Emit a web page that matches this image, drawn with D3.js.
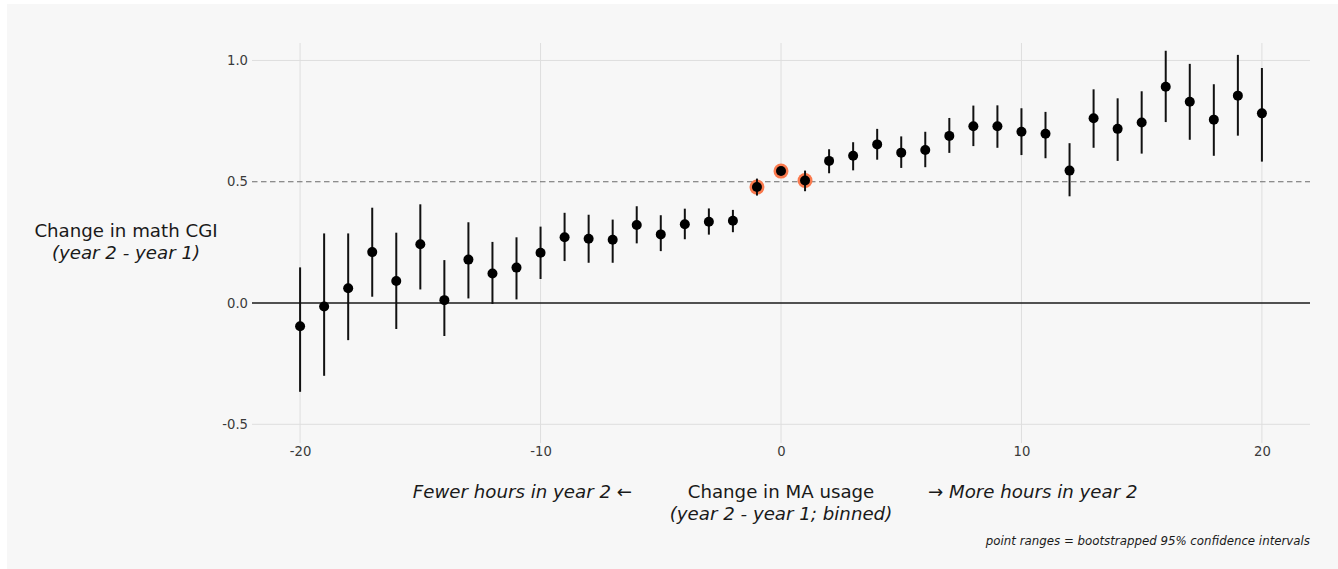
<!DOCTYPE html>
<html>
<head>
<meta charset="utf-8">
<script src="https://cdn.jsdelivr.net/npm/d3@7"></script>
<style>
  html, body { margin: 0; padding: 0; background: #ffffff; }
  svg { display: block; font-family: "DejaVu Sans", sans-serif; }
</style>
</head>
<body>
<svg id="chart" width="1338" height="569"></svg>
<script>
// binned change in MA usage (hours, year 2 - year 1)
const bins = [-20, -19, -18, -17, -16, -15, -14, -13, -12, -11, -10, -9, -8, -7, -6, -5, -4, -3, -2, -1,
  0, 1, 2, 3, 4, 5, 6, 7, 8, 9, 10, 11, 12, 13, 14, 15, 16, 17, 18, 19, 20];
// mean change in math CGI per bin
const estimate = [-0.096, -0.014, 0.061, 0.210, 0.091, 0.242, 0.012, 0.179, 0.122, 0.146, 0.207, 0.271,
  0.265, 0.261, 0.322, 0.283, 0.325, 0.335, 0.339, 0.478, 0.544, 0.505, 0.586, 0.607, 0.654, 0.620,
  0.631, 0.689, 0.729, 0.729, 0.706, 0.698, 0.546, 0.762, 0.718, 0.744, 0.892, 0.830, 0.756, 0.855, 0.782];
// bootstrapped 95% CI bounds
const lower = [-0.366, -0.300, -0.153, 0.026, -0.107, 0.056, -0.136, 0.019, -0.004, 0.015, 0.099, 0.173,
  0.166, 0.166, 0.246, 0.214, 0.263, 0.282, 0.292, 0.443, 0.530, 0.461, 0.535, 0.547, 0.591, 0.557,
  0.560, 0.619, 0.647, 0.640, 0.610, 0.597, 0.440, 0.640, 0.586, 0.616, 0.746, 0.673, 0.607, 0.690, 0.583];
const upper = [0.147, 0.287, 0.287, 0.393, 0.290, 0.407, 0.177, 0.333, 0.252, 0.271, 0.315, 0.372,
  0.364, 0.344, 0.399, 0.362, 0.389, 0.390, 0.384, 0.513, 0.558, 0.546, 0.634, 0.663, 0.718, 0.687,
  0.706, 0.763, 0.814, 0.815, 0.803, 0.788, 0.659, 0.881, 0.844, 0.873, 1.040, 0.986, 0.902, 1.023, 0.969];
// bins near zero change that get a highlight ring
const highlighted = [-1, 0, 1];

const xTicks = [-20, -10, 0, 10, 20];
const yTicks = [-0.5, 0, 0.5, 1.0];
const refLine = 0.5;

const data = bins.map((b, i) => ({ bin: b, est: estimate[i], lo: lower[i], hi: upper[i] }));

const svg = d3.select("#chart");

svg.append("rect")
  .attr("x", 7).attr("y", 4)
  .attr("width", 1331).attr("height", 565)
  .attr("fill", "#f7f7f7");

const x = d3.scaleLinear().domain([-22, 22]).range([252, 1310]);
const y = d3.scaleLinear().domain([-0.577, 1.072]).range([443, 43]);

// grid
const grid = svg.append("g");
grid.selectAll("line.vx")
  .data(xTicks)
  .enter()
  .append("line")
  .attr("x1", (d) => x(d)).attr("x2", (d) => x(d))
  .attr("y1", y.range()[1]).attr("y2", y.range()[0])
  .attr("stroke", "#dedede")
  .attr("stroke-width", 1);
grid.selectAll("line.hy")
  .data(yTicks.filter((d) => d !== 0 && d !== refLine))
  .enter()
  .append("line")
  .attr("x1", x.range()[0]).attr("x2", x.range()[1])
  .attr("y1", (d) => y(d)).attr("y2", (d) => y(d))
  .attr("stroke", "#dedede")
  .attr("stroke-width", 1);

// zero line and dashed reference line
svg.append("line")
  .attr("x1", x.range()[0]).attr("x2", x.range()[1])
  .attr("y1", y(0)).attr("y2", y(0))
  .attr("stroke", "#1a1a1a")
  .attr("stroke-width", 1.5);
svg.append("line")
  .attr("x1", x.range()[0]).attr("x2", x.range()[1])
  .attr("y1", y(refLine)).attr("y2", y(refLine))
  .attr("stroke", "#6b6b6b")
  .attr("stroke-width", 1.2)
  .attr("stroke-dasharray", "5.5,3.5");

// axes (labels only)
const yAxis = svg.append("g")
  .attr("transform", "translate(" + x.range()[0] + ",0)")
  .call(d3.axisLeft(y).tickValues(yTicks).tickSize(0).tickPadding(4)
    .tickFormat((d) => d.toFixed(1)));
const xAxis = svg.append("g")
  .attr("transform", "translate(0," + y.range()[0] + ")")
  .call(d3.axisBottom(x).tickValues(xTicks).tickSize(0).tickPadding(4)
    .tickFormat((d) => String(d)));
[yAxis, xAxis].forEach((g) => {
  g.select(".domain").remove();
  g.selectAll("text")
    .attr("fill", "#3a3a3a")
    .style("font-family", "DejaVu Sans")
    .style("font-size", "13.2px");
});

// highlight rings
svg.append("g")
  .selectAll("circle")
  .data(data.filter((d) => highlighted.includes(d.bin)))
  .enter()
  .append("circle")
  .attr("cx", (d) => x(d.bin))
  .attr("cy", (d) => y(d.est))
  .attr("r", 7.5)
  .attr("fill", "#fa7a4e");

// point ranges
svg.append("g")
  .selectAll("line")
  .data(data)
  .enter()
  .append("line")
  .attr("x1", (d) => x(d.bin)).attr("x2", (d) => x(d.bin))
  .attr("y1", (d) => y(d.lo)).attr("y2", (d) => y(d.hi))
  .attr("stroke", "#111")
  .attr("stroke-width", 2);
svg.append("g")
  .selectAll("circle")
  .data(data)
  .enter()
  .append("circle")
  .attr("cx", (d) => x(d.bin))
  .attr("cy", (d) => y(d.est))
  .attr("r", 5)
  .attr("fill", "#000");

// titles
const title = svg.append("g").attr("fill", "#1a1a1a").style("font-size", "18.2px");
title.append("text")
  .attr("x", 126).attr("y", 237)
  .attr("text-anchor", "middle")
  .text("Change in math CGI");
title.append("text")
  .attr("x", 126).attr("y", 259)
  .attr("text-anchor", "middle")
  .style("font-style", "italic")
  .text("(year 2 - year 1)");

title.append("text")
  .attr("x", 781).attr("y", 498)
  .attr("text-anchor", "middle")
  .text("Change in MA usage");
title.append("text")
  .attr("x", 781).attr("y", 520)
  .attr("text-anchor", "middle")
  .style("font-style", "italic")
  .text("(year 2 - year 1; binned)");
title.append("text")
  .attr("x", 632).attr("y", 498)
  .attr("text-anchor", "end")
  .style("font-style", "italic")
  .text("Fewer hours in year 2 ←");
title.append("text")
  .attr("x", 928).attr("y", 498)
  .attr("text-anchor", "start")
  .style("font-style", "italic")
  .text("→ More hours in year 2");

svg.append("text")
  .attr("x", 1310).attr("y", 545)
  .attr("text-anchor", "end")
  .attr("fill", "#1a1a1a")
  .style("font-size", "11.8px")
  .style("font-style", "italic")
  .text("point ranges = bootstrapped 95% confidence intervals");
</script>
</body>
</html>
